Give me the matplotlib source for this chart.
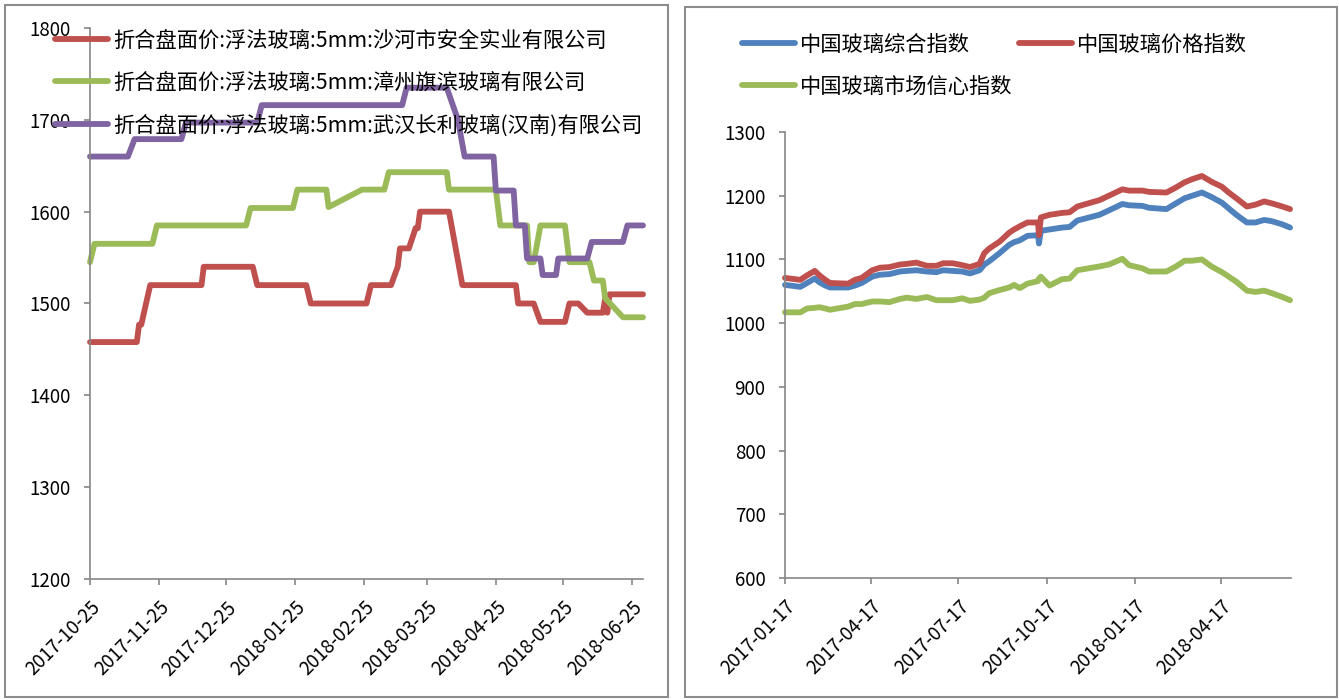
import matplotlib
matplotlib.use("Agg")
import matplotlib.pyplot as plt
import pandas as pd
from matplotlib.patches import Rectangle

plt.rcParams['font.family'] = ['Noto Sans CJK SC', 'DejaVu Sans']

# ---- left: 5mm float glass price, three plants ----
shahe_dates = ['2017-10-25', '2017-11-15', '2017-11-16', '2017-11-17', '2017-11-21',
               '2017-12-14', '2017-12-15', '2018-01-06', '2018-01-08', '2018-01-30',
               '2018-02-01', '2018-02-26', '2018-02-28', '2018-03-09', '2018-03-12',
               '2018-03-13', '2018-03-17', '2018-03-20', '2018-03-21', '2018-03-22',
               '2018-04-04', '2018-04-10', '2018-05-04', '2018-05-05', '2018-05-12',
               '2018-05-15', '2018-05-26', '2018-05-28', '2018-06-01', '2018-06-05',
               '2018-06-12', '2018-06-13', '2018-06-14', '2018-06-15', '2018-06-30']
shahe_price = [1458, 1458, 1477, 1477, 1520,
               1520, 1540, 1540, 1520, 1520,
               1500, 1500, 1520, 1520, 1540,
               1560, 1560, 1582, 1582, 1600,
               1600, 1520, 1520, 1500, 1500,
               1480, 1480, 1500, 1500, 1490,
               1490, 1505, 1490, 1510, 1510]

zhangzhou_dates = ['2017-10-25', '2017-10-27', '2017-11-22', '2017-11-24', '2018-01-03',
                   '2018-01-05', '2018-01-24', '2018-01-26', '2018-02-08', '2018-02-09',
                   '2018-02-24', '2018-03-06', '2018-03-08', '2018-04-03', '2018-04-04',
                   '2018-04-25', '2018-04-27', '2018-05-09', '2018-05-10', '2018-05-12',
                   '2018-05-15', '2018-05-26', '2018-05-28', '2018-06-06', '2018-06-08',
                   '2018-06-12', '2018-06-13', '2018-06-21', '2018-06-30']
zhangzhou_price = [1545, 1565, 1565, 1585, 1585,
                   1604, 1604, 1624, 1624, 1605,
                   1624, 1624, 1643, 1643, 1624,
                   1624, 1585, 1585, 1545, 1545,
                   1585, 1585, 1545, 1545, 1525,
                   1525, 1506, 1485, 1485]

wuhan_dates = ['2017-10-25', '2017-11-11', '2017-11-14', '2017-12-05', '2017-12-07',
               '2018-01-08', '2018-01-10', '2018-03-14', '2018-03-16', '2018-04-03',
               '2018-04-08', '2018-04-11', '2018-04-24', '2018-04-25', '2018-05-03',
               '2018-05-04', '2018-05-08', '2018-05-09', '2018-05-15', '2018-05-16',
               '2018-05-22', '2018-05-23', '2018-06-05', '2018-06-07', '2018-06-21',
               '2018-06-23', '2018-06-30']
wuhan_price = [1660, 1660, 1679, 1679, 1697,
               1697, 1716, 1716, 1735, 1735,
               1700, 1660, 1660, 1623, 1623,
               1585, 1585, 1549, 1549, 1531,
               1531, 1549, 1549, 1567, 1567,
               1585, 1585]

left_labels = ['折合盘面价:浮法玻璃:5mm:沙河市安全实业有限公司',
               '折合盘面价:浮法玻璃:5mm:漳州旗滨玻璃有限公司',
               '折合盘面价:浮法玻璃:5mm:武汉长利玻璃(汉南)有限公司']
left_ticks = ['2017-10-25', '2017-11-25', '2017-12-25', '2018-01-25', '2018-02-25',
              '2018-03-25', '2018-04-25', '2018-05-25', '2018-06-25']

# ---- right: China glass indices ----
index_dates = ['2017-01-17', '2017-02-02', '2017-02-09', '2017-02-17', '2017-02-22',
               '2017-02-28', '2017-03-05', '2017-03-24', '2017-03-31', '2017-04-07',
               '2017-04-18', '2017-04-26', '2017-05-06', '2017-05-17', '2017-05-24',
               '2017-06-03', '2017-06-14', '2017-06-24', '2017-07-01', '2017-07-11',
               '2017-07-21', '2017-07-29', '2017-08-08', '2017-08-13', '2017-08-18',
               '2017-08-29', '2017-09-08', '2017-09-13', '2017-09-19', '2017-09-27',
               '2017-10-08', '2017-10-09', '2017-10-11', '2017-10-20', '2017-11-02',
               '2017-11-10', '2017-11-18', '2017-12-11', '2017-12-21', '2018-01-04',
               '2018-01-11', '2018-01-25', '2018-02-01', '2018-02-19', '2018-03-01',
               '2018-03-10', '2018-03-18', '2018-03-28', '2018-04-07', '2018-04-18',
               '2018-04-25', '2018-05-03', '2018-05-14', '2018-05-23', '2018-06-01',
               '2018-06-09', '2018-06-20', '2018-06-28']
composite_idx = [1060, 1057, 1063, 1070, 1064, 1059, 1056, 1056, 1059, 1063,
                 1073, 1076, 1077, 1081, 1082, 1083, 1081, 1080, 1083, 1082,
                 1081, 1078, 1083, 1092, 1097, 1110, 1123, 1127, 1130, 1137,
                 1138, 1125, 1145, 1147, 1150, 1151, 1161, 1170, 1177, 1187,
                 1185, 1184, 1181, 1179, 1188, 1196, 1200, 1205, 1198, 1189,
                 1180, 1170, 1158, 1158, 1162, 1160, 1155, 1150]
price_idx = [1071, 1068, 1075, 1082, 1075, 1068, 1063, 1062, 1068, 1071,
             1083, 1087, 1088, 1092, 1093, 1095, 1090, 1090, 1094, 1094,
             1091, 1088, 1093, 1110, 1117, 1128, 1142, 1147, 1152, 1158,
             1158, 1138, 1166, 1170, 1173, 1174, 1183, 1193, 1200, 1210,
             1208, 1208, 1206, 1205, 1213, 1221, 1226, 1231, 1222, 1214,
             1205, 1196, 1183, 1186, 1191, 1188, 1183, 1179]
confidence_idx = [1017, 1017, 1023, 1024, 1025, 1023, 1021, 1026, 1030, 1030,
                  1034, 1034, 1033, 1038, 1040, 1038, 1041, 1036, 1036, 1036,
                  1039, 1035, 1037, 1040, 1047, 1052, 1056, 1060, 1055, 1062,
                  1066, 1070, 1073, 1059, 1069, 1070, 1083, 1089, 1092, 1101,
                  1091, 1086, 1081, 1081, 1089, 1098, 1098, 1100, 1089, 1080,
                  1073, 1065, 1051, 1049, 1051, 1047, 1041, 1036]
right_labels = ['中国玻璃综合指数', '中国玻璃价格指数', '中国玻璃市场信心指数']
right_ticks = ['2017-01-17', '2017-04-17', '2017-07-17', '2017-10-17', '2018-01-17', '2018-04-17']

RED = '#C0504D'
GREEN = '#9BBB59'
PURPLE = '#8064A2'
BLUE = '#4F81BD'
AXIS = '#868686'

W, H = 1339, 700
fig = plt.figure(figsize=(W / 100, H / 100), dpi=100)


def px_box(x0, y0, x1, y1):
    return [x0 / W, 1 - y1 / H, (x1 - x0) / W, (y1 - y0) / H]


# panel frames
for x0, y0, x1, y1 in [(5, 5, 668, 697), (685, 7, 1337, 697)]:
    b = px_box(x0, y0, x1, y1)
    fig.patches.append(Rectangle((b[0], b[1]), b[2], b[3], transform=fig.transFigure,
                                 fill=False, edgecolor='#8c8c8c', linewidth=1.5))


def style_axis(ax, ticks, ymin, ymax):
    for s in ['top', 'right']:
        ax.spines[s].set_visible(False)
    for s in ['left', 'bottom']:
        ax.spines[s].set_color(AXIS)
        ax.spines[s].set_linewidth(1.2)
    ax.set_ylim(ymin, ymax)
    ax.set_yticks(range(ymin, ymax + 1, 100))
    tick_pos = pd.to_datetime(ticks)
    ax.set_xticks(tick_pos)
    ax.set_xticklabels(ticks, rotation=45, ha='right', va='top', rotation_mode='anchor')
    ax.tick_params(axis='both', direction='out', length=4, width=1.2, color=AXIS,
                   labelsize=13.5, labelcolor='black')
    ax.tick_params(axis='y', pad=10)
    ax.tick_params(axis='x', pad=9)


line_kw = dict(linewidth=4.2, solid_capstyle='round', solid_joinstyle='round', clip_on=False)
legend_kw = dict(loc='upper left', frameon=False, fontsize=15.3, handlelength=2.5,
                 handletextpad=0.24, labelspacing=0.96, borderpad=0, borderaxespad=0)

# left chart
ax1 = fig.add_axes(px_box(90, 28, 643, 579))
h1, = ax1.plot(pd.to_datetime(shahe_dates), shahe_price, color=RED, **line_kw)
h2, = ax1.plot(pd.to_datetime(zhangzhou_dates), zhangzhou_price, color=GREEN, **line_kw)
h3, = ax1.plot(pd.to_datetime(wuhan_dates), wuhan_price, color=PURPLE, **line_kw)
ax1.set_xlim(pd.Timestamp('2017-10-25'), pd.Timestamp('2018-06-30'))
style_axis(ax1, left_ticks, 1200, 1800)
fig.legend([h1, h2, h3], left_labels, bbox_to_anchor=(55 / W, 1 - 29.5 / H), **legend_kw)

# right chart
ax2 = fig.add_axes(px_box(785, 132, 1291, 578))
idx_dates = pd.to_datetime(index_dates)
g1, = ax2.plot(idx_dates, composite_idx, color=BLUE, **line_kw)
g2, = ax2.plot(idx_dates, price_idx, color=RED, **line_kw)
g3, = ax2.plot(idx_dates, confidence_idx, color=GREEN, **line_kw)
ax2.set_xlim(pd.Timestamp('2017-01-17'), pd.Timestamp('2018-06-29'))
style_axis(ax2, right_ticks, 600, 1300)
# legend filled column-wise, so order the handles to read row by row
fig.legend([g1, g3, g2], [right_labels[0], right_labels[2], right_labels[1]],
           ncol=2, columnspacing=0.3, bbox_to_anchor=(742 / W, 1 - 33.5 / H), **legend_kw)

fig.savefig('out.png', dpi=100, facecolor='white')
